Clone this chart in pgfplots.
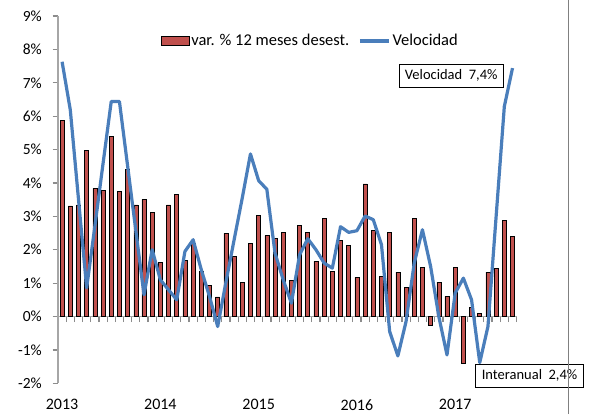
\documentclass[border=0pt]{standalone}
\usepackage{fontspec}
\setmainfont{Carlito}
\usepackage{pgfplots}
\pgfplotsset{compat=1.18}
\definecolor{barred}{HTML}{C0504D}
\definecolor{lineblue}{HTML}{4A7EBB}
\definecolor{axgray}{HTML}{A6A6A6}
\definecolor{tickgray}{HTML}{8C8C8C}
\definecolor{framegray}{HTML}{808080}
\begin{document}
\begin{tikzpicture}[x=1bp,y=1bp,font=\fontsize{15.5bp}{18bp}\selectfont]
\useasboundingbox (0,0) rectangle (590,414);
\begin{axis}[
  at={(58bp,30.7bp)}, anchor=south west,
  scale only axis, width=458.6bp, height=367.3bp,
  xmin=-0.5, xmax=55.5, ymin=-2, ymax=9,
  clip=false,
  axis y line*=left, axis x line*=bottom,
  axis x line shift=-66.78bp,
  axis line style={axgray, line width=1.2bp, -},
  xtick={-0.5,0.5,1.5,2.5,3.5,4.5,5.5,6.5,7.5,8.5,9.5,10.5,11.5,12.5,13.5,14.5,15.5,16.5,17.5,18.5,19.5,20.5,21.5,22.5,23.5,24.5,25.5,26.5,27.5,28.5,29.5,30.5,31.5,32.5,33.5,34.5,35.5,36.5,37.5,38.5,39.5,40.5,41.5,42.5,43.5,44.5,45.5,46.5,47.5,48.5,49.5,50.5,51.5,52.5,53.5,54.5,55.5},
  xticklabel=\empty,
  ytick={-2,-1,0,1,2,3,4,5,6,7,8,9},
  yticklabel={\pgfmathprintnumber{\tick}\%},
  /pgf/number format/assume math mode=true,
  every tick/.style={tickgray, line width=1.2bp},
  tick align=outside,
  major tick length=5.5bp,
  yticklabel style={font=\fontsize{15.5bp}{18bp}\selectfont, inner xsep=2bp, xshift=-8.5bp},
  legend style={at={(0.217,0.932)}, anchor=west, draw=none, fill=none,
    legend columns=2, font=\fontsize{16.5bp}{19bp}\selectfont,
    /tikz/every even column/.append style={column sep=7bp},
    legend cell align=left},
]
\addplot[ybar, bar width=4bp, fill=barred, draw=black, line width=0.6bp,
  legend image code/.code={\draw[fill=barred,draw=black,line width=0.6bp] (0bp,-4.5bp) rectangle (28bp,4.5bp);}]
coordinates {
(0,5.87) (1,3.31) (2,3.34) (3,4.97) (4,3.84) (5,3.78) (6,5.40) (7,3.75)
(8,4.41) (9,3.34) (10,3.51) (11,3.11) (12,1.63) (13,3.34) (14,3.66) (15,1.69)
(16,2.18) (17,1.36) (18,0.93) (19,0.59) (20,2.49) (21,1.79) (22,1.03) (23,2.19)
(24,3.04) (25,2.42) (26,2.35) (27,2.52) (28,1.09) (29,2.72) (30,2.52) (31,1.65)
(32,2.95) (33,1.36) (34,2.29) (35,2.12) (36,1.17) (37,3.97) (38,2.57) (39,1.20)
(40,2.53) (41,1.33) (42,0.87) (43,2.95) (44,1.47) (45,-0.26) (46,1.03) (47,0.60)
(48,1.47) (49,-1.40) (50,0.27) (51,0.10) (52,1.33) (53,1.43) (54,2.87) (55,2.40)
};
\addlegendentry{var. \% 12 meses desest.}
\addplot[sharp plot, lineblue, line width=3.2bp, line join=round, mark=none,
  legend image code/.code={\draw[lineblue,line width=3.2bp] (0bp,0bp) -- (29bp,0bp);}]
coordinates {
(0,7.63) (1,6.19) (2,3.52) (3,0.86) (4,2.70) (5,4.58) (6,6.44) (7,6.44)
(8,4.51) (9,2.58) (10,0.65) (11,2.00) (12,1.10) (13,0.80) (14,0.50) (15,1.95)
(16,2.30) (17,1.40) (18,0.60) (19,-0.30) (20,1.02) (21,2.29) (22,3.55) (23,4.87)
(24,4.07) (25,3.81) (26,1.90) (27,1.10) (28,0.40) (29,1.85) (30,2.33) (31,2.00)
(32,1.60) (33,1.45) (34,2.69) (35,2.52) (36,2.57) (37,3.01) (38,2.90) (39,2.15)
(40,-0.45) (41,-1.18) (42,-0.15) (43,1.60) (44,2.60) (45,1.50) (46,0.00) (47,-1.15)
(48,0.70) (49,1.15) (50,0.50) (51,-1.38) (52,-0.30) (53,3.00) (54,6.29) (55,7.44)
};
\addlegendentry{Velocidad}
\node[inner sep=0pt, font=\fontsize{16bp}{19bp}\selectfont] at (axis cs:0,-2.64) {2013};
\node[inner sep=0pt, font=\fontsize{16bp}{19bp}\selectfont] at (axis cs:12,-2.64) {2014};
\node[inner sep=0pt, font=\fontsize{16bp}{19bp}\selectfont] at (axis cs:24,-2.64) {2015};
\node[inner sep=0pt, font=\fontsize{16bp}{19bp}\selectfont] at (axis cs:36,-2.64) {2016};
\node[inner sep=0pt, font=\fontsize{16bp}{19bp}\selectfont] at (axis cs:48,-2.64) {2017};
\node[draw=black, fill=white, line width=0.8bp, minimum width=104bp, minimum height=23bp, inner sep=2bp, font=\fontsize{14.5bp}{17bp}\selectfont]
  at (axis cs:47.52,7.21) {Velocidad\hspace{0.45em}7,4\%};
\node[draw=black, fill=white, line width=0.8bp, minimum width=107.6bp, minimum height=23.4bp, inner sep=2bp, font=\fontsize{14.5bp}{17bp}\selectfont]
  at (axis cs:57.08,-1.775) {Interanual\hspace{0.45em}2,4\%};
\end{axis}
\draw[framegray, line width=1.4bp] (568.3,0) -- (568.3,414);
\end{tikzpicture}
\end{document}
